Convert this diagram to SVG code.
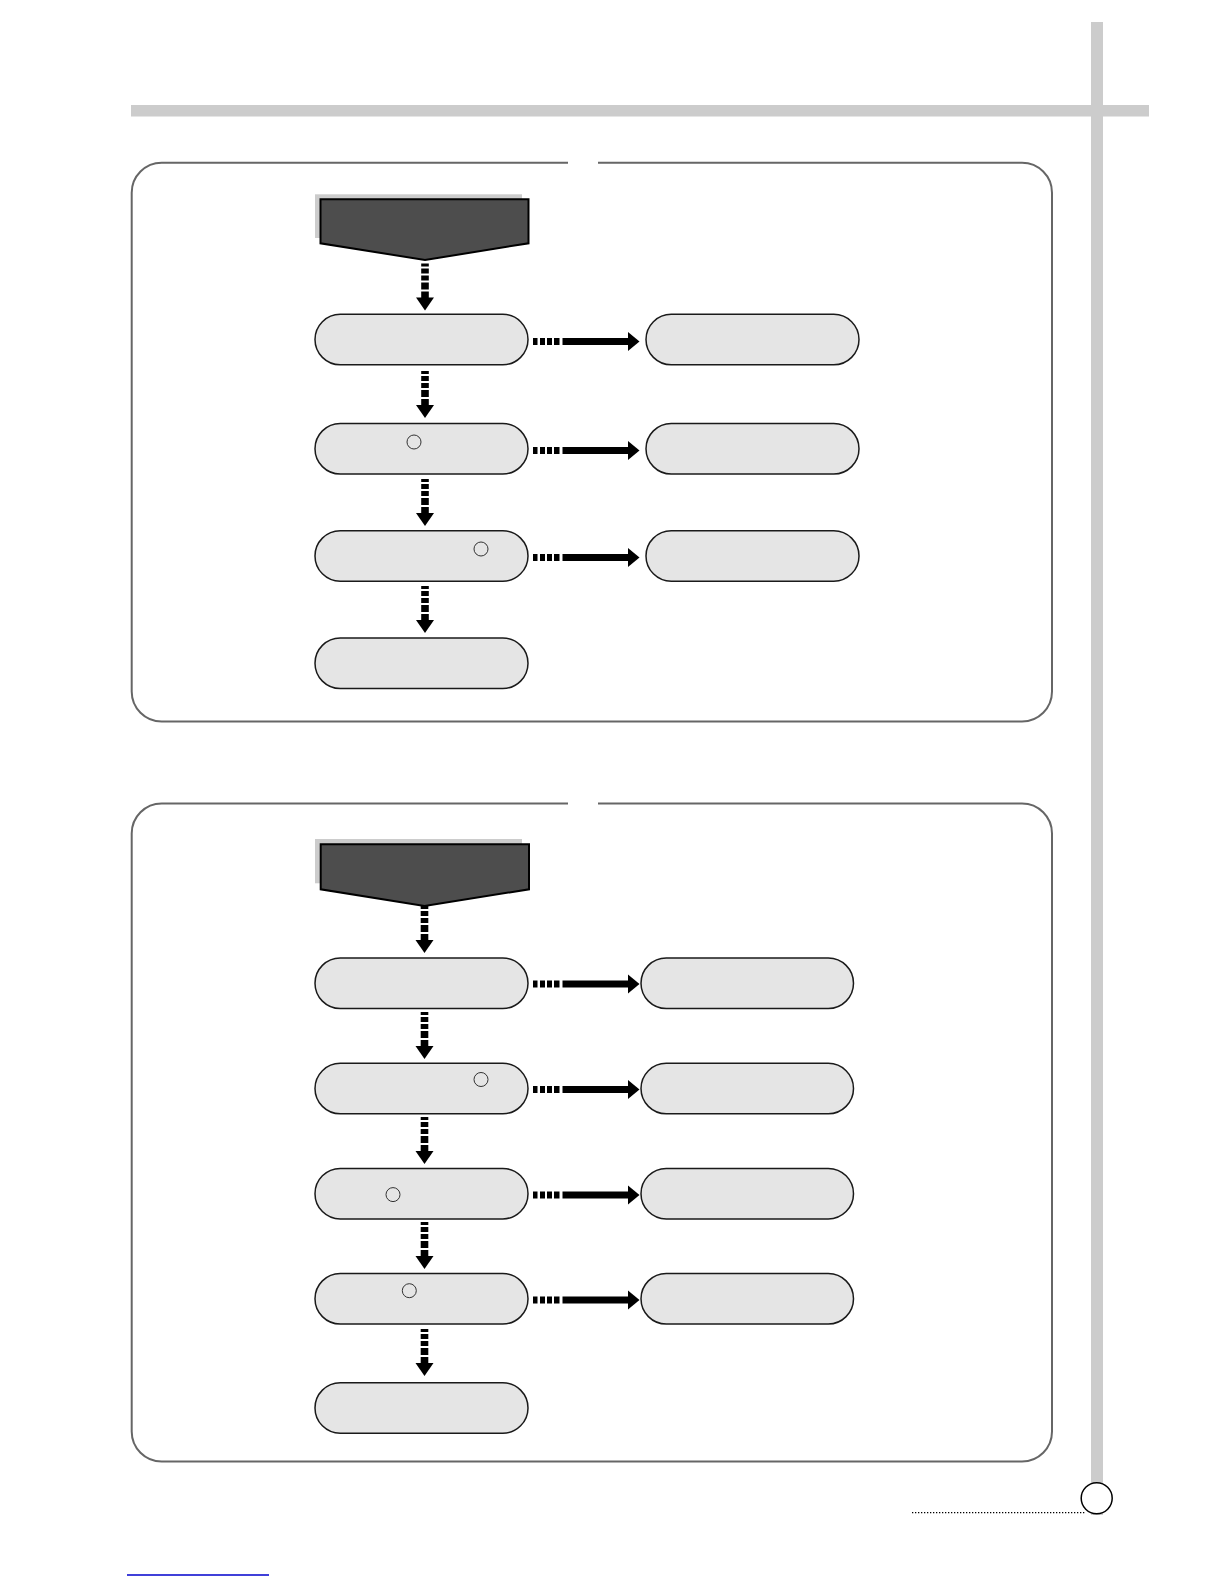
<svg xmlns="http://www.w3.org/2000/svg" width="1225" height="1585" viewBox="0 0 1225 1585">
<defs>
<style>
.bar{fill:#cccccc}
.panel{fill:none;stroke:#666666;stroke-width:2}
.shadow{fill:#cccccc}
.head{fill:#4d4d4d;stroke:#000000;stroke-width:2;stroke-linejoin:miter}
.pill{fill:#e5e5e5;stroke:#1a1a1a;stroke-width:1.5}
.mark{fill:none;stroke:#333333;stroke-width:1}
.arr{fill:#000000}
</style>
<g id="vArrow">
<rect x="-3.8" y="0" width="7.6" height="3"/>
<rect x="-3.8" y="5" width="7.6" height="5"/>
<rect x="-3.8" y="12" width="7.6" height="5"/>
<rect x="-3.8" y="19" width="7.6" height="7"/>
<rect x="-3.8" y="28" width="7.6" height="8"/>
<polygon points="-9,34 9,34 0,47"/>
</g>
<g id="hArrow">
<rect x="0" y="-3.5" width="4.5" height="7"/>
<rect x="7" y="-3.5" width="5" height="7"/>
<rect x="14" y="-3.5" width="5" height="7"/>
<rect x="21" y="-3.5" width="5.5" height="7"/>
<rect x="29.5" y="-3.5" width="67" height="7"/>
<polygon points="95,-9.5 95,9.5 106.5,0"/>
</g>
</defs>
<rect width="1225" height="1585" fill="#ffffff"/>

<g id="frame">
<rect class="bar" x="1091" y="22" width="12" height="1493"/>
<rect class="bar" x="131" y="105" width="1018" height="11.5"/>
<circle cx="1096.7" cy="1498.3" r="15.5" fill="#ffffff" stroke="#000000" stroke-width="1.5"/>
<line x1="912" y1="1512.7" x2="1086" y2="1512.7" stroke="#000000" stroke-width="1.3" stroke-dasharray="1.3 1.7"/>
<line x1="127" y1="1575" x2="269" y2="1575" stroke="#0000cc" stroke-width="1.6"/>
</g>

<g id="panel1">
<path class="panel" d="M568,162.7 H161.7 A30,30 0 0 0 131.7,192.7 V691.6 A30,30 0 0 0 161.7,721.6 H1022 A30,30 0 0 0 1052,691.6 V192.7 A30,30 0 0 0 1022,162.7 H598"/>
</g>
<g id="panel2">
<path class="panel" d="M568,803.5 H161.7 A30,30 0 0 0 131.7,833.5 V1431.5 A30,30 0 0 0 161.7,1461.5 H1022 A30,30 0 0 0 1052,1431.5 V833.5 A30,30 0 0 0 1022,803.5 H598"/>
</g>

<g id="p1-start">
<rect class="shadow" x="315" y="194.3" width="207" height="43.7"/>
<polygon class="head" points="320.5,199.3 528.5,199.3 528.5,243.3 425,260 320.5,243.3"/>
</g>
<g id="p1-a"><rect class="pill" x="315" y="314.3" width="213" height="50.5" rx="25.25"/></g>
<g id="p1-b"><rect class="pill" x="315" y="423.5" width="213" height="50.5" rx="25.25"/><circle class="mark" cx="414" cy="442" r="7"/></g>
<g id="p1-c"><rect class="pill" x="315" y="530.7" width="213" height="50.5" rx="25.25"/><circle class="mark" cx="481" cy="549" r="7"/></g>
<g id="p1-d"><rect class="pill" x="315" y="638" width="213" height="50.5" rx="25.25"/></g>
<g id="p1-ra"><rect class="pill" x="646" y="314.3" width="213" height="50.5" rx="25.25"/></g>
<g id="p1-rb"><rect class="pill" x="646" y="423.5" width="213" height="50.5" rx="25.25"/></g>
<g id="p1-rc"><rect class="pill" x="646" y="530.7" width="213" height="50.5" rx="25.25"/></g>

<g id="p2-start">
<rect class="shadow" x="315" y="839" width="207" height="44.3"/>
<polygon class="head" points="320.7,844.3 529,844.3 529,889.3 424.5,906 320.7,889.3"/>
</g>
<g id="p2-a"><rect class="pill" x="315" y="958" width="213" height="50.5" rx="25.25"/></g>
<g id="p2-b"><rect class="pill" x="315" y="1063.3" width="213" height="50.5" rx="25.25"/><circle class="mark" cx="481" cy="1079.5" r="7"/></g>
<g id="p2-c"><rect class="pill" x="315" y="1168.4" width="213" height="50.5" rx="25.25"/><circle class="mark" cx="393" cy="1194.6" r="7"/></g>
<g id="p2-d"><rect class="pill" x="315" y="1273.5" width="213" height="50.5" rx="25.25"/><circle class="mark" cx="409.3" cy="1290.7" r="7"/></g>
<g id="p2-e"><rect class="pill" x="315" y="1382.7" width="213" height="50.5" rx="25.25"/></g>
<g id="p2-ra"><rect class="pill" x="641" y="958" width="212.5" height="50.5" rx="25.25"/></g>
<g id="p2-rb"><rect class="pill" x="641" y="1063.3" width="212.5" height="50.5" rx="25.25"/></g>
<g id="p2-rc"><rect class="pill" x="641" y="1168.4" width="212.5" height="50.5" rx="25.25"/></g>
<g id="p2-rd"><rect class="pill" x="641" y="1273.5" width="212.5" height="50.5" rx="25.25"/></g>

<g id="connectors" class="arr">
<use href="#vArrow" x="425" y="263.5"/>
<use href="#vArrow" x="425" y="371"/>
<use href="#vArrow" x="425" y="479"/>
<use href="#vArrow" x="425" y="586"/>
<use href="#hArrow" x="533" y="341.5"/>
<use href="#hArrow" x="533" y="450.5"/>
<use href="#hArrow" x="533" y="557.5"/>
<use href="#vArrow" x="424.5" y="906"/>
<use href="#vArrow" x="424.5" y="1012"/>
<use href="#vArrow" x="424.5" y="1117"/>
<use href="#vArrow" x="424.5" y="1222"/>
<use href="#vArrow" x="424.5" y="1329"/>
<use href="#hArrow" x="533" y="984"/>
<use href="#hArrow" x="533" y="1089.5"/>
<use href="#hArrow" x="533" y="1195"/>
<use href="#hArrow" x="533" y="1300"/>
</g>
</svg>
